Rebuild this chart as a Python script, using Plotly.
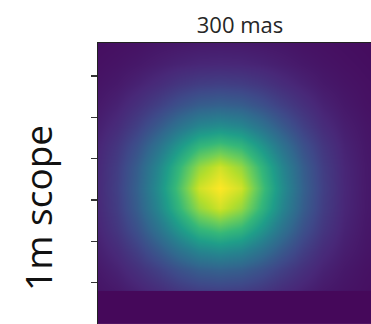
import plotly.graph_objects as go

# Grid positions of the sampled PSF image (axis units)
x_pos = [0, 5, 10, 15, 20, 25, 30, 35, 40, 45, 50, 55, 60, 65, 70]
y_pos = [0, 5, 10, 15, 20, 25, 30, 35, 40, 45, 50, 55, 60]

# Normalised intensity, one list per row (top to bottom)
row_00 = [0.038, 0.044, 0.049, 0.058, 0.064, 0.069, 0.070, 0.069, 0.064, 0.058, 0.049, 0.044, 0.038, 0.033, 0.029]
row_05 = [0.045, 0.054, 0.066, 0.082, 0.097, 0.107, 0.110, 0.107, 0.097, 0.082, 0.066, 0.054, 0.045, 0.038, 0.032]
row_10 = [0.054, 0.069, 0.094, 0.124, 0.159, 0.182, 0.190, 0.182, 0.159, 0.124, 0.094, 0.069, 0.054, 0.044, 0.037]
row_15 = [0.066, 0.094, 0.137, 0.190, 0.250, 0.295, 0.310, 0.295, 0.250, 0.190, 0.137, 0.094, 0.066, 0.049, 0.041]
row_20 = [0.082, 0.124, 0.190, 0.280, 0.380, 0.460, 0.490, 0.460, 0.380, 0.280, 0.190, 0.124, 0.082, 0.058, 0.045]
row_25 = [0.097, 0.159, 0.250, 0.380, 0.530, 0.660, 0.710, 0.660, 0.530, 0.380, 0.250, 0.159, 0.097, 0.064, 0.048]
row_30 = [0.107, 0.182, 0.295, 0.460, 0.660, 0.840, 0.930, 0.840, 0.660, 0.460, 0.295, 0.182, 0.107, 0.069, 0.049]
row_35 = [0.110, 0.190, 0.310, 0.490, 0.710, 0.930, 1.000, 0.930, 0.710, 0.490, 0.310, 0.190, 0.110, 0.070, 0.050]
row_40 = [0.107, 0.182, 0.295, 0.460, 0.660, 0.840, 0.930, 0.840, 0.660, 0.460, 0.295, 0.182, 0.107, 0.069, 0.049]
row_45 = [0.097, 0.159, 0.250, 0.380, 0.530, 0.660, 0.710, 0.660, 0.530, 0.380, 0.250, 0.159, 0.097, 0.064, 0.048]
row_50 = [0.082, 0.124, 0.190, 0.280, 0.380, 0.460, 0.490, 0.460, 0.380, 0.280, 0.190, 0.124, 0.082, 0.058, 0.045]
row_55 = [0.066, 0.094, 0.137, 0.190, 0.250, 0.295, 0.310, 0.295, 0.250, 0.190, 0.137, 0.094, 0.066, 0.049, 0.041]
row_60 = [0.054, 0.069, 0.094, 0.124, 0.159, 0.182, 0.190, 0.182, 0.159, 0.124, 0.094, 0.069, 0.054, 0.044, 0.037]

# Next panel below (dark background), edges in axis units
band_x_edges = [0, 70]
band_y_edges = [60, 68]
band_value = 0.02

y_tick_vals = [8, 18, 28, 38, 48, 58]
title_text = "300 mas"
row_label = "1m scope"

z_main = [row_00, row_05, row_10, row_15, row_20, row_25, row_30,
          row_35, row_40, row_45, row_50, row_55, row_60]

fig = go.Figure()
fig.add_trace(go.Heatmap(
    x=x_pos, y=y_pos, z=z_main,
    colorscale="Viridis", zmin=0, zmax=1, zsmooth="best",
    showscale=False, hoverinfo="skip",
))
fig.add_trace(go.Heatmap(
    x=band_x_edges, y=band_y_edges, z=[[band_value]],
    colorscale="Viridis", zmin=0, zmax=1, zsmooth=False,
    showscale=False, hoverinfo="skip",
))

fig.update_layout(
    width=371, height=324,
    margin=dict(l=98, r=0, t=43, b=0),
    paper_bgcolor="white", plot_bgcolor="white",
    font=dict(family="Open Sans", color="#262626"),
    title=dict(text=title_text, xref="container", x=240 / 371, xanchor="center",
               yref="container", y=1 - 25 / 324, yanchor="middle",
               font=dict(size=22, family="Open Sans", color="#262626")),
    showlegend=False,
)
fig.update_xaxes(range=[0.5, 66.5], side="top", showline=True, linecolor="#222222",
                 linewidth=1.5, ticks="", showticklabels=False, showgrid=False,
                 zeroline=False, fixedrange=True)
fig.update_yaxes(range=[68, 0], showline=True, linecolor="#222222", linewidth=1.5,
                 ticks="outside", ticklen=6, tickwidth=1.2, tickcolor="#333333",
                 tickvals=y_tick_vals, showticklabels=False, showgrid=False,
                 zeroline=False, fixedrange=True)
fig.add_annotation(
    text=row_label, textangle=-90, showarrow=False,
    xref="paper", yref="paper", x=(37 - 98) / 273, y=1 - (208 - 43) / 281,
    xanchor="center", yanchor="middle",
    font=dict(size=37, family="Open Sans", color="#111111"),
)

fig.write_html(
    "out.html",
    config={"displayModeBar": False, "staticPlot": True},
    post_script="document.body.style.margin='0';document.body.style.overflow='hidden';",
)
